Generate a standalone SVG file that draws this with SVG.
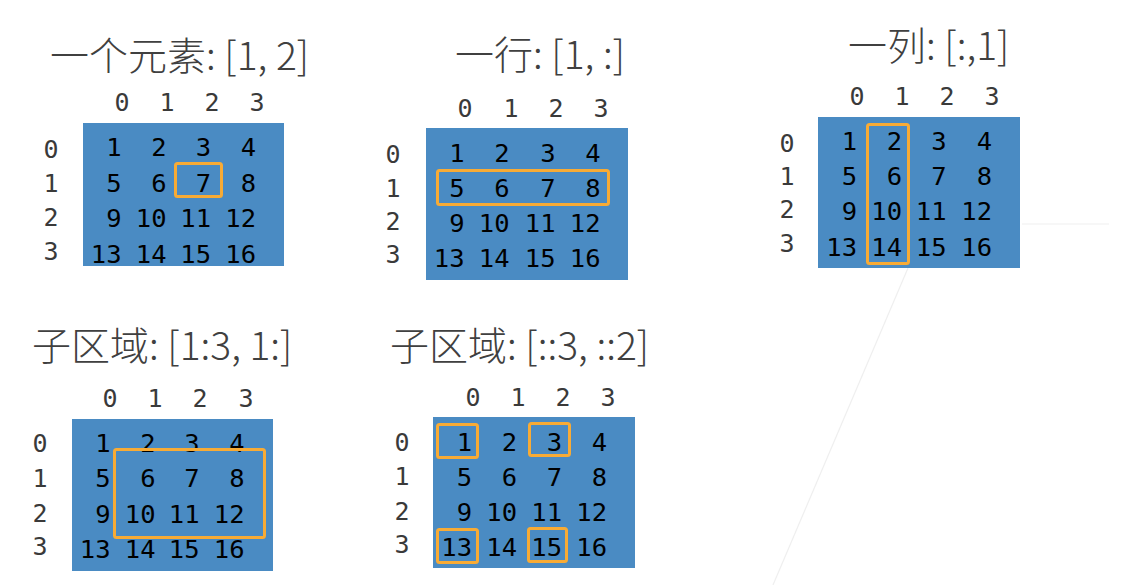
<svg xmlns="http://www.w3.org/2000/svg" width="1122" height="585" viewBox="0 0 1122 585">
<style>
.title{font-family:"Noto Sans CJK SC","Noto Sans",sans-serif;font-weight:300;font-size:39px;fill:#404040}
.hdr{font-family:"DejaVu Sans Mono",monospace;font-size:25px;fill:#3a3a3a;text-anchor:middle}
.num{font-family:"DejaVu Sans Mono",monospace;font-size:25.5px;fill:#000;text-anchor:end}
.mat{fill:#4a8bc3}
.sel{fill:none;stroke:#f8ab35;stroke-width:3;rx:2}
.faint{stroke:#efefef;stroke-width:1.2;fill:none}
</style>
<rect width="1122" height="585" fill="#fff"/>
<g id="artifacts">
<line class="faint" x1="773" y1="585" x2="908" y2="268"/>
<line class="faint" x1="1022" y1="224" x2="1109" y2="224"/>
</g>

<g id="panel-element">
<text class="title" x="50" y="70">一个元素: [1, 2]</text>
<g class="hdr"><text x="122" y="111">0</text><text x="167" y="111">1</text><text x="212" y="111">2</text><text x="257" y="111">3</text>
<text x="51" y="158">0</text><text x="51" y="192">1</text><text x="51" y="226">2</text><text x="51" y="260">3</text></g>
<rect class="mat" x="83" y="123" width="201" height="143"/>
<g class="num">
<text x="121.5" y="156">1</text><text x="166.5" y="156">2</text><text x="211" y="156">3</text><text x="256" y="156">4</text>
<text x="121.5" y="192">5</text><text x="166.5" y="192">6</text><text x="211" y="192">7</text><text x="256" y="192">8</text>
<text x="121.5" y="227">9</text><text x="166.5" y="227">10</text><text x="211" y="227">11</text><text x="256" y="227">12</text>
<text x="121.5" y="263">13</text><text x="166.5" y="263">14</text><text x="211" y="263">15</text><text x="256" y="263">16</text>
</g>
<rect class="sel" x="175.5" y="163.5" width="46" height="33"/>
</g>

<g id="panel-row">
<text class="title" x="455" y="69">一行: [1, :]</text>
<g class="hdr"><text x="465" y="117">0</text><text x="511" y="117">1</text><text x="556" y="117">2</text><text x="601" y="117">3</text>
<text x="393" y="163">0</text><text x="393" y="197">1</text><text x="393" y="230">2</text><text x="393" y="263">3</text></g>
<rect class="mat" x="426" y="128" width="202" height="152"/>
<g class="num">
<text x="464.5" y="162">1</text><text x="509.5" y="162">2</text><text x="555.5" y="162">3</text><text x="600.5" y="162">4</text>
<text x="464.5" y="197">5</text><text x="509.5" y="197">6</text><text x="555.5" y="197">7</text><text x="600.5" y="197">8</text>
<text x="464.5" y="232">9</text><text x="509.5" y="232">10</text><text x="555.5" y="232">11</text><text x="600.5" y="232">12</text>
<text x="464.5" y="267">13</text><text x="509.5" y="267">14</text><text x="555.5" y="267">15</text><text x="600.5" y="267">16</text>
</g>
<rect class="sel" x="437.5" y="170.5" width="171" height="34"/>
</g>

<g id="panel-column">
<text class="title" x="848" y="60">一列: [:,1]</text>
<g class="hdr"><text x="857" y="105">0</text><text x="902" y="105">1</text><text x="947" y="105">2</text><text x="992" y="105">3</text>
<text x="787" y="152">0</text><text x="787" y="185">1</text><text x="787" y="218">2</text><text x="787" y="252">3</text></g>
<rect class="mat" x="818" y="117" width="202" height="151"/>
<g class="num">
<text x="857" y="150">1</text><text x="902" y="150">2</text><text x="946.5" y="150">3</text><text x="992" y="150">4</text>
<text x="857" y="185">5</text><text x="902" y="185">6</text><text x="946.5" y="185">7</text><text x="992" y="185">8</text>
<text x="857" y="220">9</text><text x="902" y="220">10</text><text x="946.5" y="220">11</text><text x="992" y="220">12</text>
<text x="857" y="256">13</text><text x="902" y="256">14</text><text x="946.5" y="256">15</text><text x="992" y="256">16</text>
</g>
<rect class="sel" x="867.5" y="124.5" width="41" height="139"/>
</g>

<g id="panel-subregion-1">
<text class="title" x="32" y="360">子区域: [1:3, 1:]</text>
<g class="hdr"><text x="110" y="407">0</text><text x="155" y="407">1</text><text x="200" y="407">2</text><text x="246" y="407">3</text>
<text x="40" y="452">0</text><text x="40" y="487">1</text><text x="40" y="522">2</text><text x="40" y="555">3</text></g>
<rect class="mat" x="72" y="419" width="201" height="152"/>
<g class="num">
<text x="110.5" y="452">1</text><text x="155.5" y="452">2</text><text x="199.5" y="452">3</text><text x="244.5" y="452">4</text>
<text x="110.5" y="487">5</text><text x="155.5" y="487">6</text><text x="199.5" y="487">7</text><text x="244.5" y="487">8</text>
<text x="110.5" y="523">9</text><text x="155.5" y="523">10</text><text x="199.5" y="523">11</text><text x="244.5" y="523">12</text>
<text x="110.5" y="558">13</text><text x="155.5" y="558">14</text><text x="199.5" y="558">15</text><text x="244.5" y="558">16</text>
</g>
<rect class="sel" x="114.5" y="449.5" width="150" height="88"/>
</g>

<g id="panel-subregion-2">
<text class="title" x="390" y="360">子区域: [::3, ::2]</text>
<g class="hdr"><text x="473" y="406">0</text><text x="518" y="406">1</text><text x="563" y="406">2</text><text x="608" y="406">3</text>
<text x="402" y="451">0</text><text x="402" y="485">1</text><text x="402" y="520">2</text><text x="402" y="553">3</text></g>
<rect class="mat" x="433" y="417" width="202" height="151"/>
<g class="num">
<text x="472" y="451">1</text><text x="517" y="451">2</text><text x="562" y="451">3</text><text x="607" y="451">4</text>
<text x="472" y="486">5</text><text x="517" y="486">6</text><text x="562" y="486">7</text><text x="607" y="486">8</text>
<text x="472" y="521">9</text><text x="517" y="521">10</text><text x="562" y="521">11</text><text x="607" y="521">12</text>
<text x="472" y="556">13</text><text x="517" y="556">14</text><text x="562" y="556">15</text><text x="607" y="556">16</text>
</g>
<rect class="sel" x="437.5" y="424.5" width="40" height="33"/>
<rect class="sel" x="529.5" y="423.5" width="40" height="32"/>
<rect class="sel" x="437.5" y="529.5" width="40" height="33"/>
<rect class="sel" x="528.5" y="528.5" width="38" height="33"/>
</g>
</svg>
